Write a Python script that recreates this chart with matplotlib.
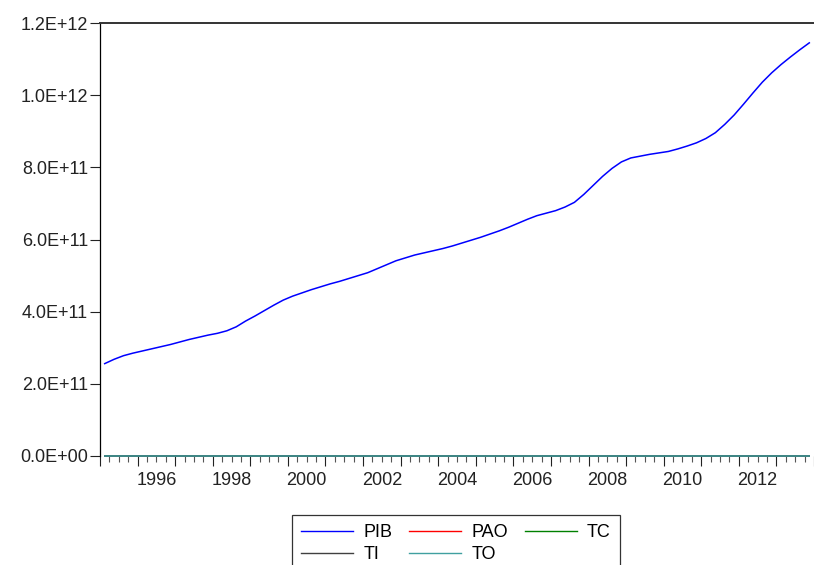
import matplotlib
matplotlib.use("Agg")
import matplotlib.pyplot as plt
from matplotlib.ticker import FuncFormatter, MultipleLocator
from matplotlib.lines import Line2D
import numpy as np

plt.rcParams['font.family'] = ['Liberation Sans', 'DejaVu Sans']

# quarterly observations 1995Q1 .. 2013Q4
start_year = 1995
n_years = 19

# PIB (units of 1e12)
pib = [
    0.256, 0.268, 0.278, 0.285,   # 1995
    0.291, 0.297, 0.303, 0.309,   # 1996
    0.316, 0.323, 0.329, 0.335,   # 1997
    0.340, 0.347, 0.358, 0.374,   # 1998
    0.388, 0.403, 0.418, 0.432,   # 1999
    0.443, 0.452, 0.461, 0.469,   # 2000
    0.477, 0.484, 0.492, 0.500,   # 2001
    0.508, 0.519, 0.530, 0.541,   # 2002
    0.549, 0.557, 0.563, 0.569,   # 2003
    0.575, 0.582, 0.590, 0.598,   # 2004
    0.606, 0.615, 0.624, 0.634,   # 2005
    0.645, 0.656, 0.666, 0.673,   # 2006
    0.680, 0.690, 0.703, 0.725,   # 2007
    0.750, 0.775, 0.797, 0.815,   # 2008
    0.826, 0.831, 0.836, 0.840,   # 2009
    0.844, 0.851, 0.859, 0.868,   # 2010
    0.880, 0.896, 0.919, 0.945,   # 2011
    0.975, 1.006, 1.036, 1.062,   # 2012
    1.085, 1.106, 1.126, 1.145,   # 2013
]
pib = np.array(pib) * 1e12

# the other series are negligible on this scale: they sit on the zero line
pao = [0.0] * len(pib)
tc = [0.0] * len(pib)
ti = [0.0] * len(pib)
to = [0.0] * len(pib)

series_names = ["PIB", "PAO", "TC", "TI", "TO"]
series_vals = [pib, pao, tc, ti, to]
series_cols = ["#0000FF", "#FF0000", "#008000", "#404040", "#40A0A0"]

label_years = [1996, 1998, 2000, 2002, 2004, 2006, 2008, 2010, 2012]

FS = 13

# each quarter plotted at its mid point
x = start_year + (np.arange(len(pib)) + 0.5) / 4.0

W, H = 814, 565
fig = plt.figure(figsize=(W / 100, H / 100), dpi=100)
ax = fig.add_axes([100 / W, 1 - 456 / H, 714 / W, 433 / H])

for name, vals, col in zip(series_names, series_vals, series_cols):
    if name == "PIB":
        ax.plot(x, vals, color=col, lw=1.1, label=name, zorder=3)
    else:
        # flat series on the zero line, drawn unclipped so they stay whole
        ax.plot(x, vals, color=col, lw=1.4, alpha=0.75 if name == "TO" else 1.0,
                label=name, clip_on=False, zorder=2)

ax.set_xlim(start_year, start_year + n_years)
ax.set_ylim(0, 1.2e12)

# ── y axis ────────────────────────────────────────────────────────────────
def sci(v, pos):
    if v == 0:
        return "0.0E+00"
    e = int(np.floor(np.log10(abs(v)) + 1e-9))
    return f"{v / 10**e:.1f}E+{e:02d}"

ax.yaxis.set_major_locator(MultipleLocator(2e11))
ax.yaxis.set_major_formatter(FuncFormatter(sci))
ax.tick_params(axis='y', direction='out', length=7, width=0.8, pad=1.5,
               labelsize=FS, colors='#222222')

# ── x axis: year ticks, quarter minor ticks, labels mid-year ──────────────
ax.xaxis.set_major_locator(MultipleLocator(1))
ax.xaxis.set_minor_locator(MultipleLocator(0.25))
ax.xaxis.set_major_formatter(FuncFormatter(lambda v, p: ""))
ax.tick_params(axis='x', which='major', direction='out', length=7.5,
               width=0.8, color='#222222')
ax.tick_params(axis='x', which='minor', direction='out', length=4,
               width=0.8, color='#555555')
for yr in label_years:
    ax.annotate(str(yr), xy=(yr + 0.5, 0), xycoords=('data', 'axes fraction'),
                xytext=(0, -11.5), textcoords='offset points',
                ha='center', va='top', fontsize=FS, color='#222222')

# ── frame ─────────────────────────────────────────────────────────────────
ax.spines['right'].set_visible(False)
ax.spines['bottom'].set_visible(False)
ax.spines['top'].set_color('#333333')
ax.spines['top'].set_linewidth(1.4)
ax.spines['left'].set_color('black')
ax.spines['left'].set_linewidth(0.9)

# ── legend: rows PIB PAO TC / TI TO ───────────────────────────────────────
handles = [Line2D([], [], color=c, lw=1.0) for c in series_cols]
order = [0, 3, 1, 4, 2]
leg = fig.legend([handles[i] for i in order], [series_names[i] for i in order],
                 ncol=3, loc='upper left',
                 bbox_to_anchor=(292 / W, 1 - 515 / H),
                 fontsize=FS, frameon=True, fancybox=False,
                 edgecolor='black', handlelength=2.9, handletextpad=0.55,
                 columnspacing=0.93, labelspacing=0.28, borderpad=0.5,
                 borderaxespad=0)
leg.get_frame().set_linewidth(0.9)

fig.savefig("out.png", dpi=100, facecolor='white')
